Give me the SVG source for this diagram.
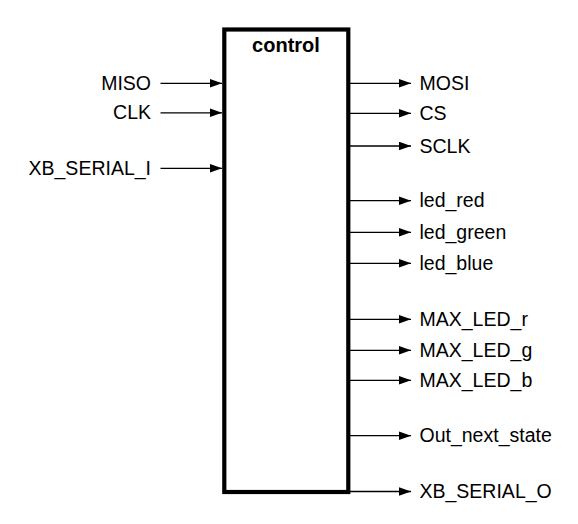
<svg xmlns="http://www.w3.org/2000/svg" width="578" height="524" viewBox="0 0 578 524">
  <style>
    .lbl { font-family: "Liberation Sans", Arial, sans-serif; font-size: 19.5px; fill: #000; }
    .l { text-anchor: end; }
    .title { font-family: "Liberation Sans", Arial, sans-serif; font-size: 20px; font-weight: bold; text-anchor: middle; fill: #000; }
    .wire { stroke: #000; stroke-width: 1.3; fill: none; marker-end: url(#arr); }
  </style>
  <defs>
    <marker id="arr" markerUnits="userSpaceOnUse" markerWidth="13" markerHeight="10" refX="12.5" refY="4.5" orient="auto">
      <path d="M0,0 L12.5,4.5 L0,9 z" fill="#000"/>
    </marker>
  </defs>
  <rect width="578" height="524" fill="#fff"/>
  <g id="control">
    <rect x="224.3" y="29.5" width="124" height="462.5" fill="none" stroke="#000" stroke-width="4.2"/>
    <text class="title" x="286" y="51.5">control</text>
  </g>
  <g id="connectors">
    <line class="wire" x1="160.5" y1="83.3" x2="222" y2="83.3"/>
    <line class="wire" x1="160.5" y1="112.8" x2="222" y2="112.8"/>
    <line class="wire" x1="160.5" y1="168.3" x2="222" y2="168.3"/>
    <line class="wire" x1="350" y1="83.3" x2="411" y2="83.3"/>
    <line class="wire" x1="350" y1="113.3" x2="411" y2="113.3"/>
    <line class="wire" x1="350" y1="146" x2="411" y2="146"/>
    <line class="wire" x1="350" y1="200.7" x2="411" y2="200.7"/>
    <line class="wire" x1="350" y1="232.3" x2="411" y2="232.3"/>
    <line class="wire" x1="350" y1="263.3" x2="411" y2="263.3"/>
    <line class="wire" x1="350" y1="319.3" x2="411" y2="319.3"/>
    <line class="wire" x1="350" y1="350.3" x2="411" y2="350.3"/>
    <line class="wire" x1="350" y1="380.3" x2="411" y2="380.3"/>
    <line class="wire" x1="350" y1="435.7" x2="411" y2="435.7"/>
    <line class="wire" x1="350" y1="491.5" x2="411" y2="491.5"/>
  </g>
  <g id="in_MISO"><text class="lbl l" x="151" y="90">MISO</text></g>
  <g id="in_CLK"><text class="lbl l" x="151" y="119.3">CLK</text></g>
  <g id="in_XB_SERIAL_I"><text class="lbl l" x="151" y="174.8">XB_SERIAL_I</text></g>
  <g id="out_MOSI"><text class="lbl" x="419.5" y="90">MOSI</text></g>
  <g id="out_CS"><text class="lbl" x="419.5" y="120">CS</text></g>
  <g id="out_SCLK"><text class="lbl" x="419.5" y="152.7">SCLK</text></g>
  <g id="out_led_red"><text class="lbl" x="419.5" y="207.4">led_red</text></g>
  <g id="out_led_green"><text class="lbl" x="419.5" y="239">led_green</text></g>
  <g id="out_led_blue"><text class="lbl" x="419.5" y="270">led_blue</text></g>
  <g id="out_MAX_LED_r"><text class="lbl" x="419.5" y="326">MAX_LED_r</text></g>
  <g id="out_MAX_LED_g"><text class="lbl" x="419.5" y="357">MAX_LED_g</text></g>
  <g id="out_MAX_LED_b"><text class="lbl" x="419.5" y="387">MAX_LED_b</text></g>
  <g id="out_Out_next_state"><text class="lbl" x="419.5" y="442.4">Out_next_state</text></g>
  <g id="out_XB_SERIAL_O"><text class="lbl" x="419.5" y="498">XB_SERIAL_O</text></g>
</svg>
